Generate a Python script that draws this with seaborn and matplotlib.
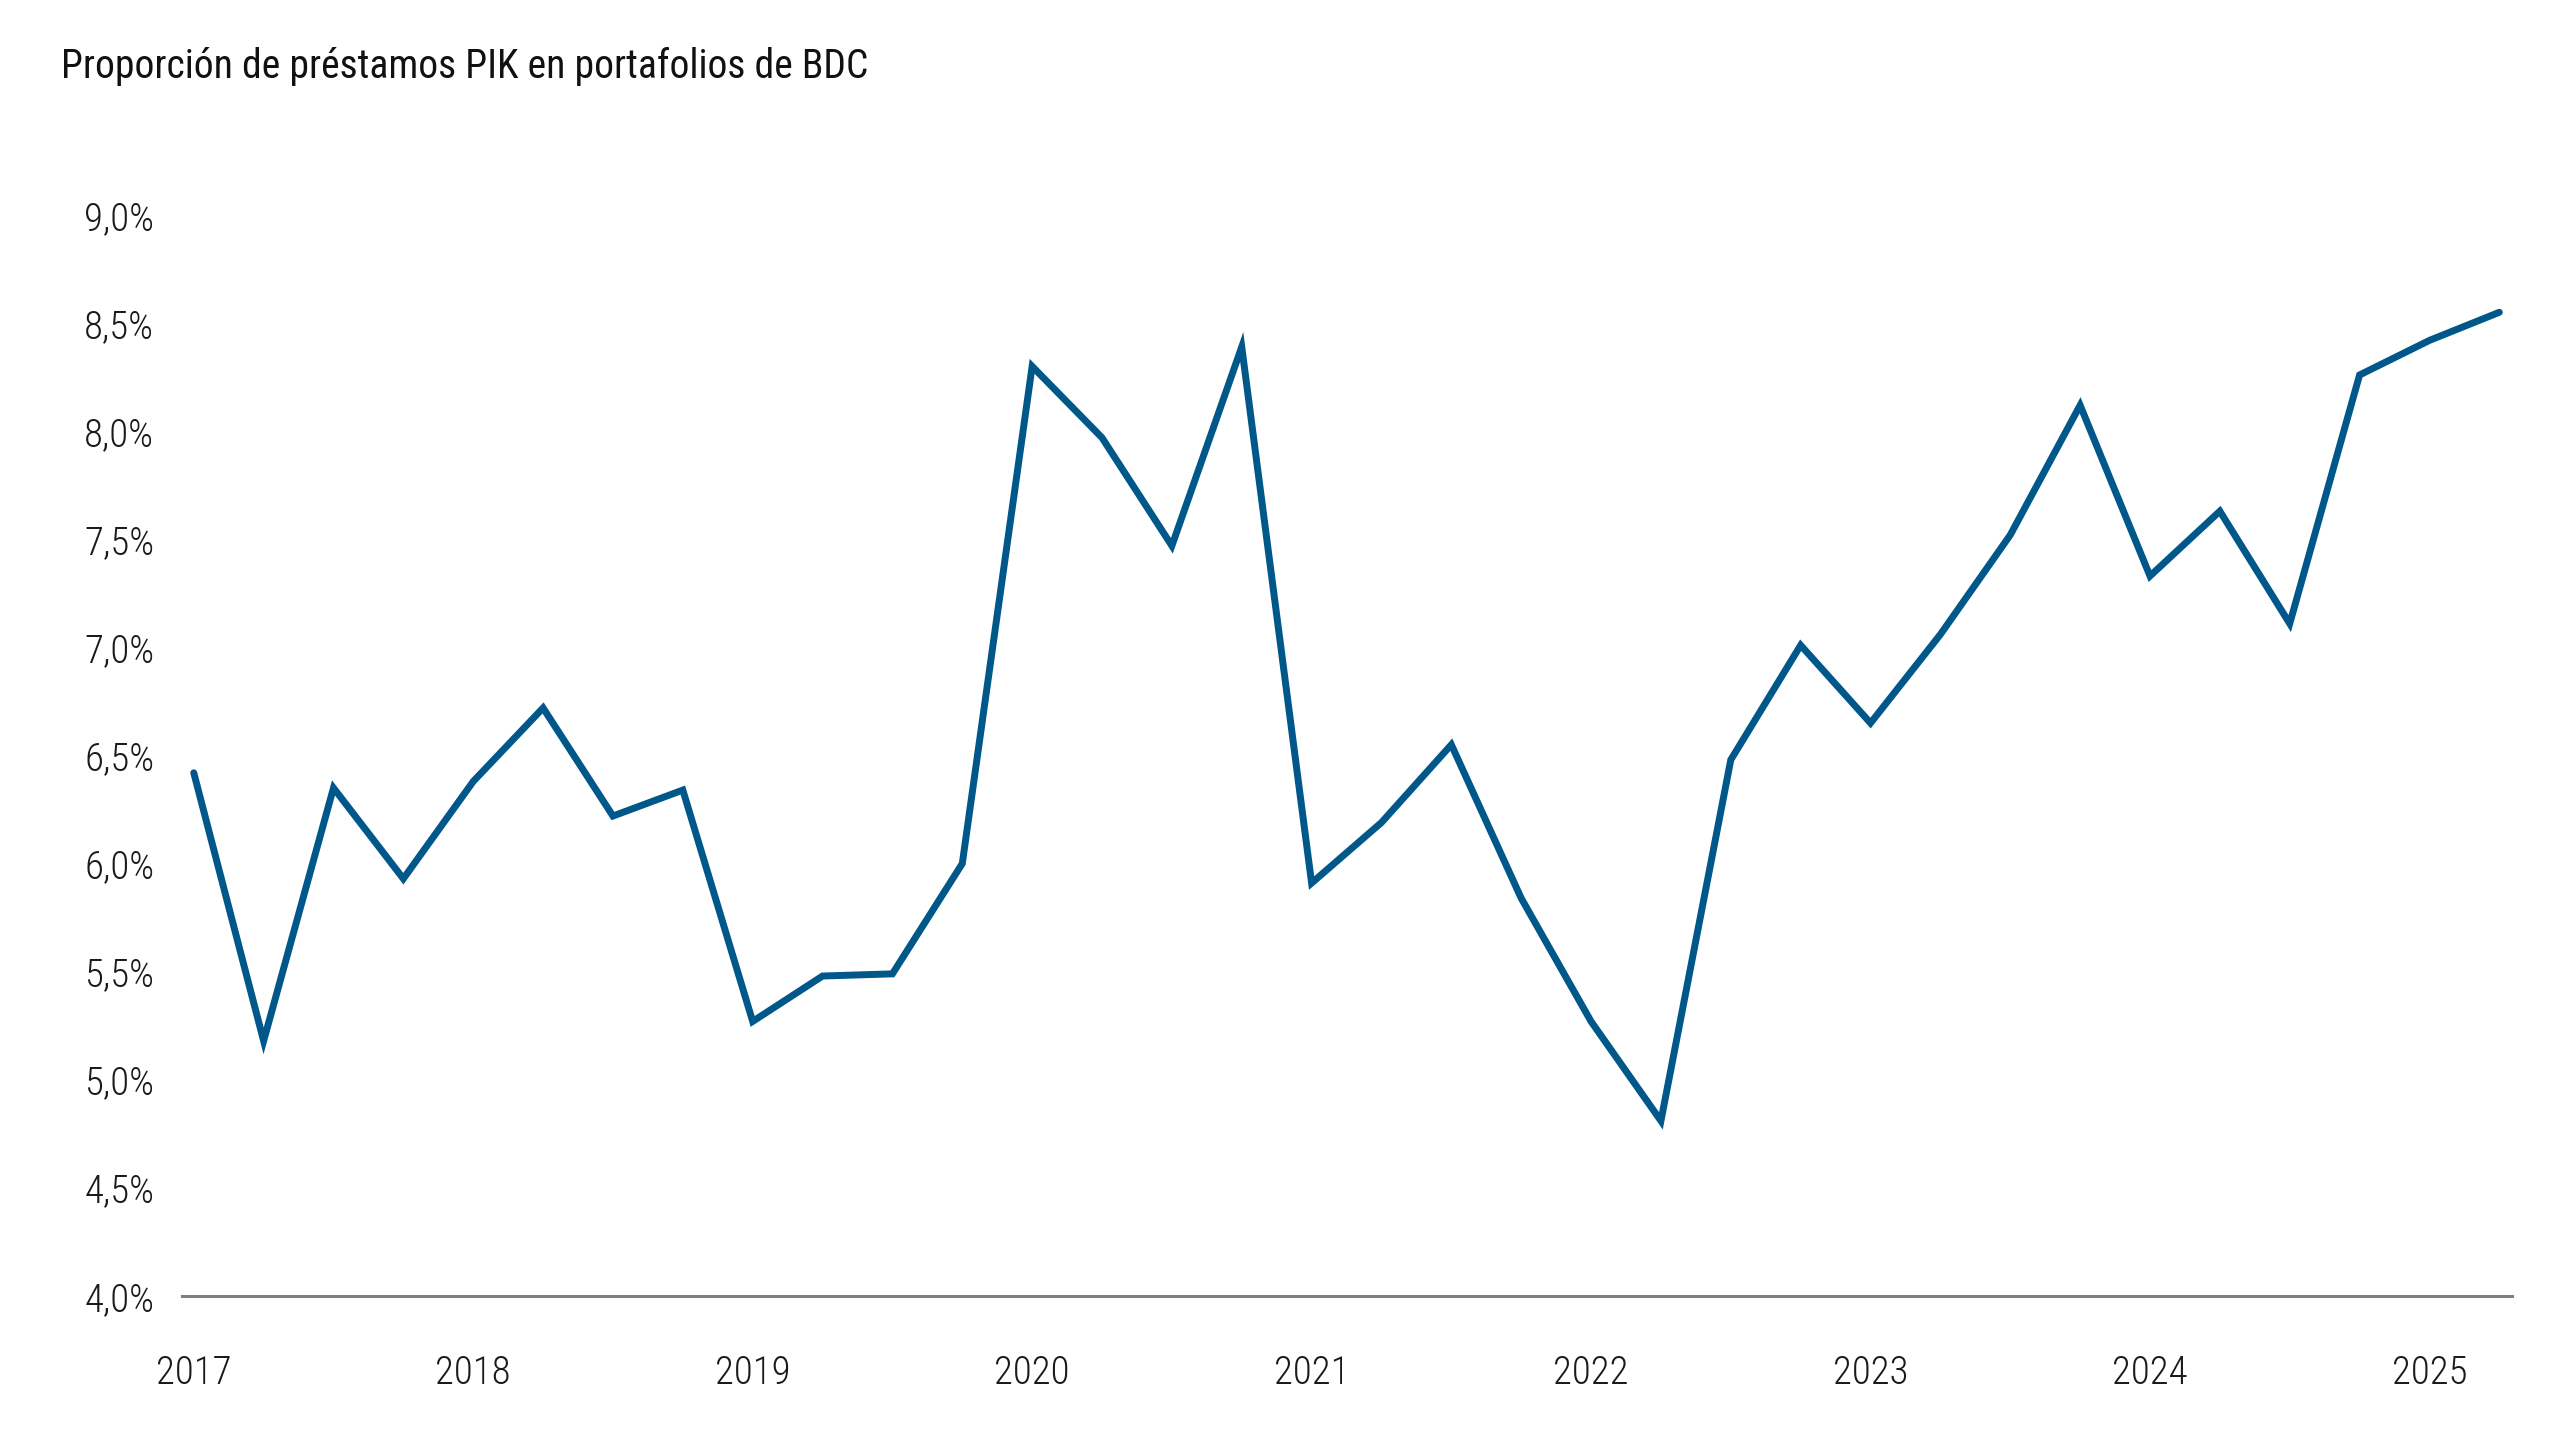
import matplotlib
matplotlib.use("Agg")
import matplotlib.pyplot as plt
import seaborn as sns
import pandas as pd
from matplotlib.ticker import FuncFormatter

# ---- data ----
quarters = [
    "2017Q1", "2017Q2", "2017Q3", "2017Q4",
    "2018Q1", "2018Q2", "2018Q3", "2018Q4",
    "2019Q1", "2019Q2", "2019Q3", "2019Q4",
    "2020Q1", "2020Q2", "2020Q3", "2020Q4",
    "2021Q1", "2021Q2", "2021Q3", "2021Q4",
    "2022Q1", "2022Q2", "2022Q3", "2022Q4",
    "2023Q1", "2023Q2", "2023Q3", "2023Q4",
    "2024Q1", "2024Q2", "2024Q3", "2024Q4",
    "2025Q1", "2025Q2",
]
pik_share = [
    6.42, 5.18, 6.35, 5.93,
    6.38, 6.72, 6.22, 6.34,
    5.27, 5.48, 5.49, 6.00,
    8.30, 7.97, 7.47, 8.39,
    5.91, 6.19, 6.55, 5.84,
    5.27, 4.81, 6.48, 7.01,
    6.65, 7.06, 7.52, 8.12,
    7.33, 7.63, 7.11, 8.26,
    8.42, 8.55,
]
year_ticks = [2017, 2018, 2019, 2020, 2021, 2022, 2023, 2024, 2025]
y_ticks = [4.0, 4.5, 5.0, 5.5, 6.0, 6.5, 7.0, 7.5, 8.0, 8.5, 9.0]
title = "Proporción de préstamos PIK en portafolios de BDC"

per = pd.PeriodIndex(quarters, freq="Q")
df = pd.DataFrame({"t": per.year + (per.quarter - 1) / 4.0, "v": pik_share})

sns.set_theme(style="white")
FONT = ["Roboto Condensed", "Liberation Sans Narrow", "Roboto", "DejaVu Sans"]
plt.rcParams["font.family"] = FONT

fig = plt.figure(figsize=(25.6, 14.4), dpi=100)
ax = fig.add_axes([0.0711, 0.1, 0.91, 0.7507])

sns.lineplot(data=df, x="t", y="v", ax=ax, color="#00578A", linewidth=5.0,
             solid_joinstyle="miter", solid_capstyle="round")

ax.set_xlim(2016.958, 2025.294)
ax.set_ylim(4.0, 9.0)
ax.set_xticks(year_ticks)
ax.set_xticklabels([str(y) for y in year_ticks])
ax.set_yticks(y_ticks)
ax.yaxis.set_major_formatter(FuncFormatter(lambda v, p: f"{v:.1f}".replace(".", ",") + "%"))
ax.set_xlabel("")
ax.set_ylabel("")

for s in ["top", "right", "left"]:
    ax.spines[s].set_visible(False)
ax.spines["bottom"].set_color("#7f7f7f")
ax.spines["bottom"].set_linewidth(2.2)
ax.grid(False)
ax.tick_params(axis="both", length=0, labelsize=28, colors="#1a1a1a")
ax.tick_params(axis="x", pad=42)
ax.tick_params(axis="y", pad=20)
for lbl in ax.get_xticklabels() + ax.get_yticklabels():
    lbl.set_fontweight("light")
for ln in ax.lines:
    ln.set_clip_on(False)

fig.text(0.0238, 0.9535, title, fontsize=28.5, color="#111111", ha="left", va="center")

fig.savefig("out.png", dpi=100, facecolor="white")
